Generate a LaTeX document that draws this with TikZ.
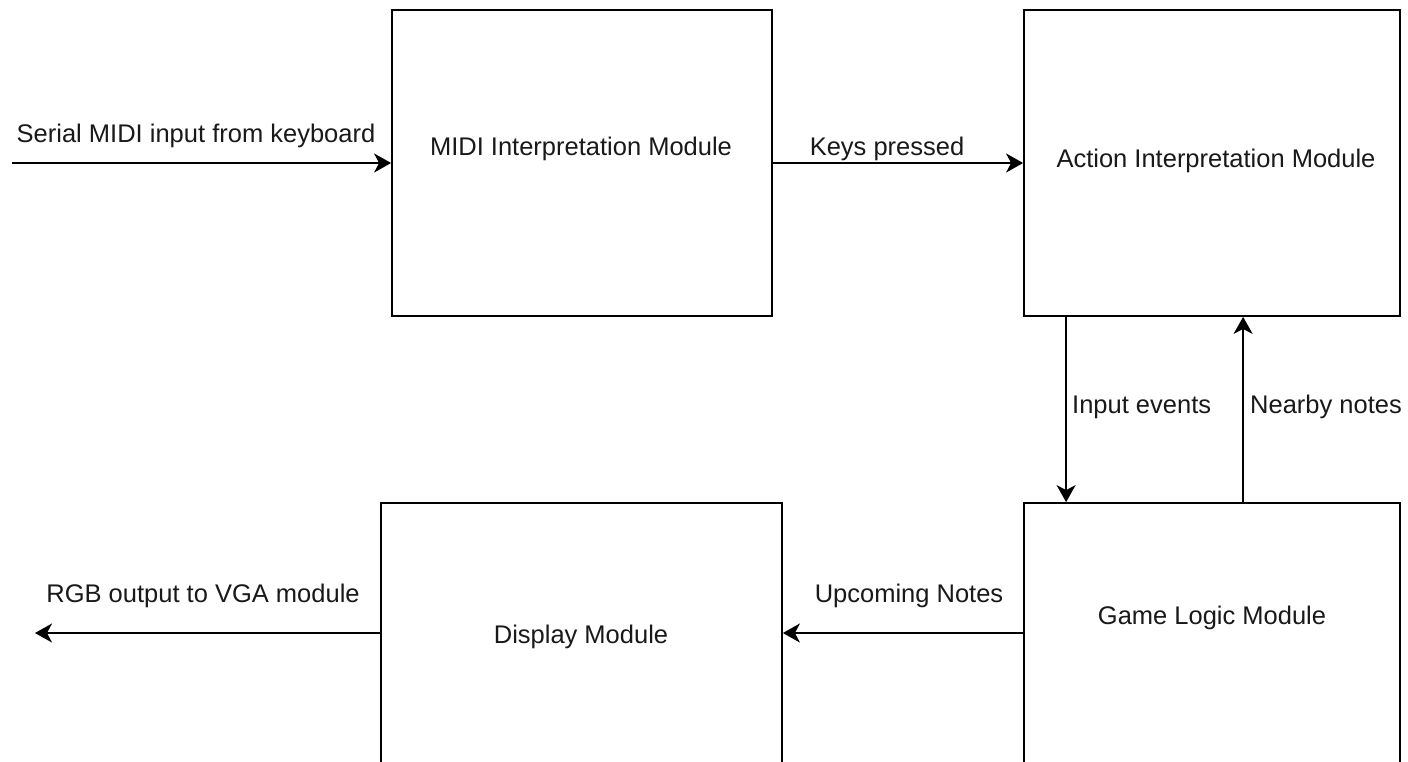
\documentclass[tikz,border=0pt]{standalone}
\usepackage{fontspec}
\setmainfont{Liberation Sans}
\usetikzlibrary{arrows.meta,calc}
\begin{document}
\begin{tikzpicture}[x=1pt,y=-1pt,
  module/.style={draw, line width=1.8pt, rectangle, inner sep=0pt},
  arr/.style={line width=1.9pt, -{Stealth[length=17pt,width=19pt,inset=5pt]}},
  txt/.style={inner sep=0pt, font=\fontsize{25.5}{30}\selectfont, text=black!90}]
\useasboundingbox (0,0) rectangle (1408,761);
\clip (0,0) rectangle (1408,761);
\fill[white] (0,0) rectangle (1408,761);

% module boxes
\node[module, minimum width=380pt, minimum height=306pt] (midi)    at (582,163) {};
\node[module, minimum width=376pt, minimum height=306pt] (action)  at (1212,163) {};
\node[module, minimum width=401pt, minimum height=260pt] (display) at (581.5,633) {};
\node[module, minimum width=376pt, minimum height=260pt] (game)    at (1212,633) {};

% module titles
\node[txt, anchor=base] (midiT)    at (581,155) {MIDI Interpretation Module};
\node[txt, anchor=base] (actionT)  at (1216,167) {Action Interpretation Module};
\node[txt, anchor=base] (displayT) at (581,643) {Display Module};
\node[txt, anchor=base] (gameT)    at (1212,624) {Game Logic Module};

% free ends
\coordinate (kbd) at (12,163);
\coordinate (vga) at (35,633);

% connectors
\draw[arr] (kbd) -- (midi.west);
\draw[arr] (midi.east) -- (action.west);
\draw[arr] ($(action.south west)+(43,0)$) -- ($(game.north west)+(43,0)$);
\draw[arr] ($(game.north west)+(220,0)$) -- ($(action.south west)+(220,0)$);
\draw[arr] (game.west) -- (display.east);
\draw[arr] (display.west) -- (vga);

% connector labels
\node[txt, anchor=base] (lblKbd)  at (196,142) {Serial MIDI input from keyboard};
\node[txt, anchor=base] (lblKeys) at (887,155) {Keys pressed};
\node[txt, anchor=base west] (lblIn)   at (1072,413) {Input events};
\node[txt, anchor=base west] (lblNear) at (1250,413) {Nearby notes};
\node[txt, anchor=base] (lblUp)   at (909,602) {Upcoming Notes};
\node[txt, anchor=base] (lblRgb)  at (203,602) {RGB output to VGA module};
\end{tikzpicture}
\end{document}
